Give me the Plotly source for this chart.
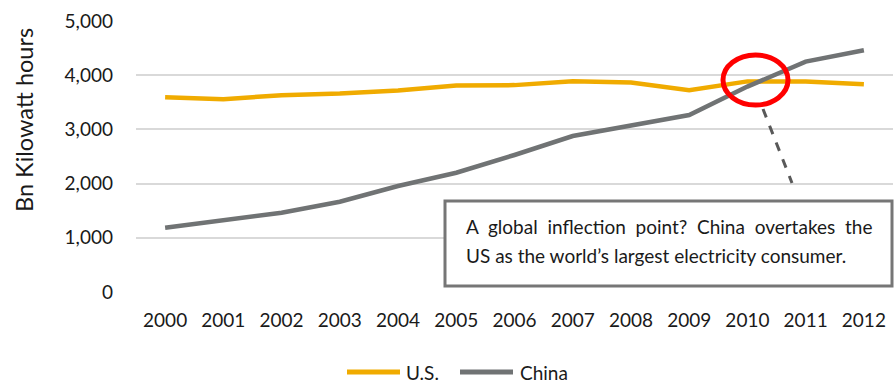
import plotly.graph_objects as go

# Annual electricity consumption, billion kWh
years = [2000, 2001, 2002, 2003, 2004, 2005, 2006, 2007, 2008, 2009, 2010, 2011, 2012]
us_consumption = [3592, 3557, 3632, 3662, 3716, 3811, 3817, 3890, 3865, 3724, 3886, 3883, 3832]
china_consumption = [1186, 1323, 1463, 1666, 1956, 2201, 2528, 2878, 3068, 3266, 3790, 4250, 4460]

series_names = ["U.S.", "China"]
series_values = [us_consumption, china_consumption]
series_colors = ["#F0AB00", "#707374"]

y_ticks = [0, 1000, 2000, 3000, 4000, 5000]

FONT = "Lato"
TEXT_COLOR = "#1a1a1a"

W, H = 894, 383
M_L, M_R, M_T, M_B = 136, 1, 21, 91
PLOT_W = W - M_L - M_R
PLOT_H = H - M_T - M_B


def px_x(x):
    """Pixel column -> paper x."""
    return (x - M_L) / PLOT_W


def px_y(y):
    """Pixel row -> paper y."""
    return (H - M_B - y) / PLOT_H


fig = go.Figure()
for name, vals, color in zip(series_names, series_values, series_colors):
    fig.add_trace(go.Scatter(
        x=years, y=vals, name=name, mode="lines",
        line=dict(color=color, width=4.5),
        showlegend=False,
    ))

shapes = []
annotations = []

# Highlight ring around the 2010 crossover
shapes.append(dict(
    type="circle", xref="paper", yref="paper",
    x0=px_x(723), x1=px_x(788), y0=px_y(105), y1=px_y(55),
    line=dict(color="#FF0000", width=5), layer="above",
))

# Dashed leader from the ring down towards the callout
shapes.append(dict(
    type="line", xref="paper", yref="paper",
    x0=px_x(763), y0=px_y(109), x1=px_x(792), y1=px_y(183),
    line=dict(color="#595959", width=3, dash="dash"), layer="above",
))

# Callout box
shapes.append(dict(
    type="rect", xref="paper", yref="paper",
    x0=px_x(445), x1=px_x(892), y0=px_y(286), y1=px_y(201),
    line=dict(color="#767676", width=3), fillcolor="white", layer="above",
))

nb = "\u00a0"
callout_lines = [
    f"A{nb} global{nb} inflection{nb} point?{nb} China{nb} overtakes{nb} the",
    "US as the world\u2019s largest electricity consumer.",
]
for text, yc in zip(callout_lines, [226, 255]):
    annotations.append(dict(
        text=text, xref="paper", yref="paper", x=px_x(464), y=px_y(yc),
        xanchor="left", yanchor="middle", showarrow=False,
        font=dict(family=FONT, size=19, color=TEXT_COLOR),
    ))

# Y-axis title
annotations.append(dict(
    text="Bn Kilowatt hours", xref="paper", yref="paper",
    x=px_x(24), y=px_y(120), xanchor="center", yanchor="middle",
    textangle=-90, showarrow=False,
    font=dict(family=FONT, size=23.5, color=TEXT_COLOR),
))

# Legend: long line samples followed by series names
legend_items = [(347, 400, 404), (460, 513, 518)]
for (lx0, lx1, tx), name, color in zip(legend_items, series_names, series_colors):
    shapes.append(dict(
        type="line", xref="paper", yref="paper",
        x0=px_x(lx0), x1=px_x(lx1), y0=px_y(372), y1=px_y(372),
        line=dict(color=color, width=5),
    ))
    annotations.append(dict(
        text=name, xref="paper", yref="paper", x=px_x(tx), y=px_y(372),
        xanchor="left", yanchor="middle", showarrow=False,
        font=dict(family=FONT, size=19, color=TEXT_COLOR),
    ))

fig.update_layout(
    width=W, height=H,
    margin=dict(l=M_L, r=M_R, t=M_T, b=M_B),
    paper_bgcolor="white", plot_bgcolor="white",
    font=dict(family=FONT, size=19, color=TEXT_COLOR),
    shapes=shapes, annotations=annotations,
    showlegend=False,
    xaxis=dict(
        range=[years[0] - 0.5, years[-1] + 0.5],
        tickmode="array", tickvals=years, ticktext=[str(y) for y in years],
        showgrid=False, zeroline=False, showline=False,
        ticks="", ticklabelstandoff=15,
        tickfont=dict(family=FONT, size=19, color=TEXT_COLOR),
        fixedrange=True,
    ),
    yaxis=dict(
        range=[0, 5000],
        tickmode="array", tickvals=y_ticks,
        ticktext=[f"{v:,}" for v in y_ticks],
        showgrid=True, gridcolor="#D9D9D9", gridwidth=1.5,
        zeroline=False, showline=False,
        ticks="", ticklabelstandoff=22,
        tickfont=dict(family=FONT, size=19, color=TEXT_COLOR),
        fixedrange=True,
    ),
)

fig.write_html("out.html")
